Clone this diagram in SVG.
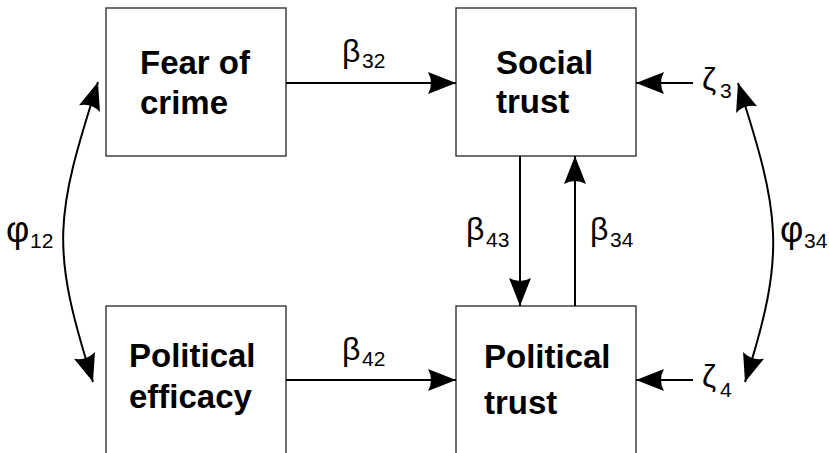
<svg xmlns="http://www.w3.org/2000/svg" width="829" height="453" viewBox="0 0 829 453">
<style>
.box{fill:#fff;stroke:#333;stroke-width:1.4}
.nt{font-family:"Liberation Sans",Arial,sans-serif;font-weight:bold;font-size:33px;fill:#000}
.lb{font-family:"Liberation Sans",Arial,sans-serif;font-size:32px;fill:#000}
.sb{font-family:"Liberation Sans",Arial,sans-serif;font-size:21px;fill:#000}
.ph{font-family:"Liberation Sans",Arial,sans-serif;font-size:36px;fill:#000}
.ar{fill:none;stroke:#000;stroke-width:2}
</style>
<defs>
<marker id="ah" markerUnits="userSpaceOnUse" markerWidth="30" markerHeight="24" refX="28" refY="11" orient="auto-start-reverse" overflow="visible">
<path d="M28,11 L0,0 Q6,11 0,22 Z" fill="#000"/>
</marker>
</defs>
<g id="fear">
<rect class="box" x="106" y="8" width="180" height="148"/>
<text class="nt" x="140" y="74">Fear of</text>
<text class="nt" x="140" y="114">crime</text>
</g>
<g id="social">
<rect class="box" x="456" y="8" width="180" height="148"/>
<text class="nt" x="496" y="74">Social</text>
<text class="nt" x="496" y="113">trust</text>
</g>
<g id="efficacy">
<rect class="box" x="106" y="306" width="180" height="160"/>
<text class="nt" x="129" y="367">Political</text>
<text class="nt" x="129" y="408">efficacy</text>
</g>
<g id="ptrust">
<rect class="box" x="456" y="306" width="180" height="160"/>
<text class="nt" x="484" y="368">Political</text>
<text class="nt" x="484" y="414">trust</text>
</g>
<g id="connectors">
<path class="ar" d="M286,83 L456,83" marker-end="url(#ah)"/>
<path class="ar" d="M286,380 L456,380" marker-end="url(#ah)"/>
<path class="ar" d="M520,156 L520,306" marker-end="url(#ah)"/>
<path class="ar" d="M575,306 L575,156" marker-end="url(#ah)"/>
<path class="ar" d="M693,83 L636,83" marker-end="url(#ah)"/>
<path class="ar" d="M693,380 L636,380" marker-end="url(#ah)"/>
<path class="ar" d="M98,82 C55,217 50,247 93,382" marker-start="url(#ah)" marker-end="url(#ah)"/>
<path class="ar" d="M738,83 C780,214 787,251 745,382" marker-start="url(#ah)" marker-end="url(#ah)"/>
</g>
<g id="labels">
<text class="lb" x="342" y="62">β</text><text class="sb" x="362" y="68">32</text>
<text class="lb" x="342" y="360">β</text><text class="sb" x="362" y="366">42</text>
<text class="lb" x="466" y="240">β</text><text class="sb" x="486" y="247">43</text>
<text class="lb" x="590" y="240">β</text><text class="sb" x="610" y="247">34</text>
<text class="lb" x="702" y="90">ζ</text><text class="sb" x="720" y="98">3</text>
<text class="lb" x="702" y="387">ζ</text><text class="sb" x="720" y="397">4</text>
<text class="ph" x="6" y="242">φ</text><text class="sb" x="30" y="248">12</text>
<text class="ph" x="780" y="242">φ</text><text class="sb" x="804" y="248">34</text>
</g>
</svg>
